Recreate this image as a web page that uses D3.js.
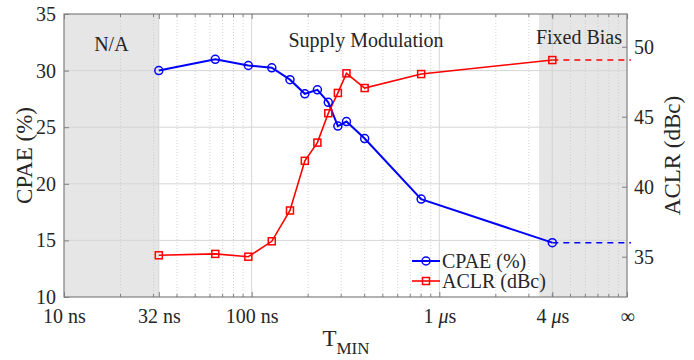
<!doctype html>
<html>
<head>
<meta charset="utf-8">
<script src="https://d3js.org/d3.v7.min.js"></script>
<style>
  body { margin: 0; background: #fff; }
  text { font-family: "Liberation Serif", "Times New Roman", serif; fill: #262626; }
</style>
</head>
<body>
<svg width="694" height="360"></svg>
<script>
// data (time in seconds)
var tmin = [32e-9, 64e-9, 96e-9, 128e-9, 160e-9, 192e-9, 224e-9, 256e-9, 288e-9, 320e-9, 400e-9, 800e-9, 4e-6];
var cpae = [30.0, 31.0, 30.45, 30.25, 29.2, 27.95, 28.3, 27.2, 25.1, 25.5, 24.0, 18.65, 14.8];
var aclr = [35.1, 35.2, 35.0, 36.1, 38.3, 41.85, 43.15, 45.25, 46.7, 48.1, 47.05, 48.05, 49.05];
var xTicks = [1e-8, 3.2e-8, 1e-7, 1e-6, 4e-6, 1e-5];
var xTickLabels = ["10 ns", "32 ns", "100 ns", "1 |s", "4 |s", "∞"];
var leftTicks = [10, 15, 20, 25, 30, 35];
var rightTicks = [35, 40, 45, 50];
var regions = [
  {from: 1e-8, to: 3.2e-8, label: "N/A"},
  {from: 3.4e-6, to: 1e-5, label: "Fixed Bias"}
];

var svg = d3.select("svg");
var L = 64, R = 627, T = 14, B = 297;

var x = d3.scaleLog().domain([1e-8, 1e-5]).range([L, R]);
var yL = d3.scaleLinear().domain([10, 35]).range([B, T]);
var yR = d3.scaleLinear().domain([32.12, 52.34]).range([B, T]);

// shaded regions
svg.selectAll(".shade").data(regions).enter().append("rect")
  .attr("x", function(d) { return x(d.from); })
  .attr("y", T)
  .attr("width", function(d) { return x(d.to) - x(d.from); })
  .attr("height", B - T)
  .attr("fill", "#e6e6e6");

// minor ticks positions
var minor = [];
[1e-8, 1e-7, 1e-6].forEach(function(dec) {
  for (var k = 2; k <= 9; k++) minor.push(k * dec);
});

// grid
var grid = svg.append("g");
grid.selectAll(".mg").data(minor).enter().append("line")
  .attr("x1", function(d) { return x(d); }).attr("x2", function(d) { return x(d); })
  .attr("y1", T).attr("y2", B)
  .attr("stroke", "#c8c8c8").attr("stroke-width", 0.8).attr("stroke-dasharray", "1,2");
grid.selectAll(".vg").data(xTicks.slice(1, -1)).enter().append("line")
  .attr("x1", function(d) { return x(d); }).attr("x2", function(d) { return x(d); })
  .attr("y1", T).attr("y2", B)
  .attr("stroke", "#d6d6d6").attr("stroke-width", 1);
grid.selectAll(".hg").data(leftTicks.slice(1, -1)).enter().append("line")
  .attr("x1", L).attr("x2", R)
  .attr("y1", function(d) { return yL(d); }).attr("y2", function(d) { return yL(d); })
  .attr("stroke", "#d6d6d6").attr("stroke-width", 1);

// axes
var axColor = "#7f7f7f";
function styleAxis(g) {
  g.select(".domain").remove();
  g.selectAll(".tick line").attr("stroke", axColor);
  g.selectAll(".tick text").attr("font-size", "20px").attr("fill", "#262626");
}

svg.append("g").attr("transform", "translate(" + L + ",0)")
  .call(d3.axisLeft(yL).tickValues(leftTicks).tickSizeInner(-5).tickSizeOuter(0).tickPadding(8))
  .call(styleAxis);

svg.append("g").attr("transform", "translate(" + R + ",0)")
  .call(d3.axisRight(yR).tickValues(rightTicks).tickSizeInner(-5).tickSizeOuter(0).tickPadding(7))
  .call(styleAxis);

var xb = svg.append("g").attr("transform", "translate(0," + B + ")")
  .call(d3.axisBottom(x).tickValues(xTicks).tickSizeInner(-5).tickSizeOuter(0).tickPadding(12)
    .tickFormat(function(d, i) { return xTickLabels[i]; }))
  .call(styleAxis);
xb.selectAll(".tick text").each(function() {
  var t = d3.select(this), s = t.text();
  if (s.indexOf("|") >= 0) {
    var parts = s.split("|");
    t.text(parts[0]);
    t.append("tspan").attr("font-style", "italic").text("μ");
    t.append("tspan").text(parts[1]);
  }
});

svg.append("g").attr("transform", "translate(0," + T + ")")
  .call(d3.axisTop(x).tickValues(xTicks).tickSizeInner(-5).tickSizeOuter(0).tickFormat(""))
  .call(styleAxis);

// minor ticks top & bottom
svg.append("g").selectAll("line").data(minor).enter().append("line")
  .attr("x1", function(d) { return x(d); }).attr("x2", function(d) { return x(d); })
  .attr("y1", B).attr("y2", B - 3).attr("stroke", axColor);
svg.append("g").selectAll("line").data(minor).enter().append("line")
  .attr("x1", function(d) { return x(d); }).attr("x2", function(d) { return x(d); })
  .attr("y1", T).attr("y2", T + 3).attr("stroke", axColor);

// box
svg.append("rect").attr("x", L).attr("y", T).attr("width", R - L).attr("height", B - T)
  .attr("fill", "none").attr("stroke", axColor).attr("stroke-width", 1.2);

// region labels
svg.append("text").attr("x", (x(regions[0].from) + x(regions[0].to)) / 2).attr("y", 51)
  .attr("text-anchor", "middle").attr("font-size", "20px").text("N/A");
svg.append("text").attr("x", 366).attr("y", 47)
  .attr("text-anchor", "middle").attr("font-size", "20px").text("Supply Modulation");
svg.append("text").attr("x", 622).attr("y", 44)
  .attr("text-anchor", "end").attr("font-size", "20px").text("Fixed Bias");

// series
var pts = tmin.map(function(t, i) { return {t: t, c: cpae[i], a: aclr[i]}; });
var last = pts[pts.length - 1];
var xEnd = 1.05e-5;

svg.append("line").attr("x1", x(last.t)).attr("x2", x(xEnd))
  .attr("y1", yL(last.c)).attr("y2", yL(last.c))
  .attr("stroke", "#0000ff").attr("stroke-width", 1.5).attr("stroke-dasharray", "6,5");
svg.append("line").attr("x1", x(last.t)).attr("x2", x(xEnd))
  .attr("y1", yR(last.a)).attr("y2", yR(last.a))
  .attr("stroke", "#ff0000").attr("stroke-width", 1.5).attr("stroke-dasharray", "6,5");

svg.append("path").datum(pts)
  .attr("d", d3.line().x(function(d) { return x(d.t); }).y(function(d) { return yL(d.c); }))
  .attr("fill", "none").attr("stroke", "#0000ff").attr("stroke-width", 2);
svg.append("path").datum(pts)
  .attr("d", d3.line().x(function(d) { return x(d.t); }).y(function(d) { return yR(d.a); }))
  .attr("fill", "none").attr("stroke", "#ff0000").attr("stroke-width", 1.6);

svg.append("g").selectAll("circle").data(pts).enter().append("circle")
  .attr("cx", function(d) { return x(d.t); }).attr("cy", function(d) { return yL(d.c); })
  .attr("r", 4).attr("fill", "none").attr("stroke", "#0000ff").attr("stroke-width", 1.5);
svg.append("g").selectAll("rect").data(pts).enter().append("rect")
  .attr("x", function(d) { return x(d.t) - 3.5; }).attr("y", function(d) { return yR(d.a) - 3.5; })
  .attr("width", 7).attr("height", 7)
  .attr("fill", "none").attr("stroke", "#ff0000").attr("stroke-width", 1.5);

// legend
var leg = svg.append("g").attr("transform", "translate(412,261)");
leg.append("line").attr("x1", 0).attr("x2", 28).attr("stroke", "#0000ff").attr("stroke-width", 2);
leg.append("circle").attr("cx", 14).attr("r", 4).attr("fill", "none").attr("stroke", "#0000ff").attr("stroke-width", 1.5);
leg.append("text").attr("x", 30).attr("y", 7).attr("font-size", "20px").text("CPAE (%)");
leg.append("line").attr("x1", 0).attr("x2", 28).attr("y1", 20).attr("y2", 20).attr("stroke", "#ff0000").attr("stroke-width", 1.6);
leg.append("rect").attr("x", 10.5).attr("y", 16.5).attr("width", 7).attr("height", 7).attr("fill", "none").attr("stroke", "#ff0000").attr("stroke-width", 1.5);
leg.append("text").attr("x", 30).attr("y", 27).attr("font-size", "20px").text("ACLR (dBc)");

// axis titles
svg.append("text").attr("transform", "translate(32," + ((T + B) / 2) + ") rotate(-90)")
  .attr("text-anchor", "middle").attr("font-size", "23px").text("CPAE (%)");
svg.append("text").attr("transform", "translate(680," + ((T + B) / 2) + ") rotate(-90)")
  .attr("text-anchor", "middle").attr("font-size", "23px").text("ACLR (dBc)");
var xt = svg.append("text").attr("x", 346).attr("y", 346).attr("text-anchor", "middle").attr("font-size", "23px");
xt.append("tspan").text("T");
xt.append("tspan").attr("font-size", "17px").attr("dy", 8).text("MIN");
</script>
</body>
</html>
